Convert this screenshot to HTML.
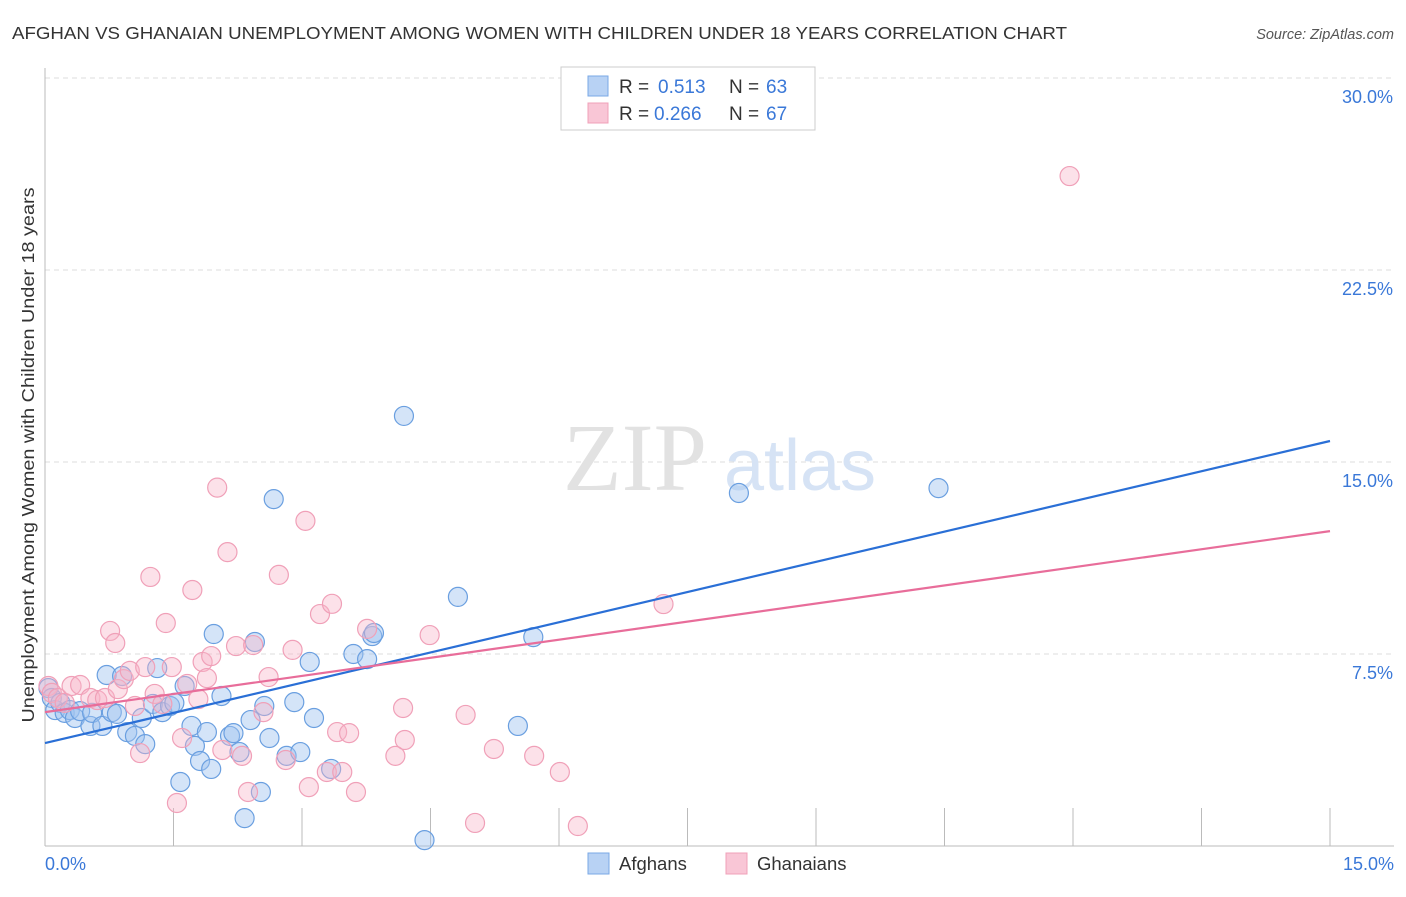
<!DOCTYPE html>
<html><head><meta charset="utf-8"><style>
body{margin:0;background:#fff;font-family:"Liberation Sans",sans-serif;}
</style></head><body>
<svg width="1406" height="892" xmlns="http://www.w3.org/2000/svg">
<text x="12" y="39" font-size="17.5" fill="#333" textLength="1055" lengthAdjust="spacingAndGlyphs">AFGHAN VS GHANAIAN UNEMPLOYMENT AMONG WOMEN WITH CHILDREN UNDER 18 YEARS CORRELATION CHART</text>
<text x="1394" y="39" font-size="14.5" fill="#555" font-style="italic" text-anchor="end">Source: ZipAtlas.com</text>
<g id="grid"></g>
<line x1="45" y1="68" x2="45" y2="846" stroke="#bbb"/>
<line x1="45" y1="846" x2="1394" y2="846" stroke="#bbb"/>
<text x="635" y="490" font-size="96" fill="#e2e2e2" font-family="Liberation Serif,serif" text-anchor="middle">ZIP</text>
<text x="800" y="490" font-size="72" fill="#d6e3f5" text-anchor="middle">atlas</text>
<text transform="translate(34,455) rotate(-90)" font-size="17.5" fill="#333" text-anchor="middle" textLength="535" lengthAdjust="spacingAndGlyphs">Unemployment Among Women with Children Under 18 years</text>
<text x="45" y="870" font-size="18" fill="#3a78d8">0.0%</text>
<text x="1394" y="870" font-size="18" fill="#3a78d8" text-anchor="end">15.0%</text>
<g id="points"></g>
<g id="lines"></g>
<g>
<rect x="561" y="67" width="254" height="63" fill="#fff" stroke="#ccc"/>
<rect x="588" y="76" width="20" height="20" fill="#b8d2f4" stroke="#7aa8e6"/>
<rect x="588" y="103" width="20" height="20" fill="#f9c6d6" stroke="#f0a0b8"/>
<text x="619" y="93" font-size="19" fill="#333">R =</text>
<text x="658" y="93" font-size="19" fill="#3a78d8">0.513</text>
<text x="729" y="93" font-size="19" fill="#333">N =</text>
<text x="766" y="93" font-size="19" fill="#3a78d8">63</text>
<text x="619" y="120" font-size="19" fill="#333">R =</text>
<text x="654" y="120" font-size="19" fill="#3a78d8">0.266</text>
<text x="729" y="120" font-size="19" fill="#333">N =</text>
<text x="766" y="120" font-size="19" fill="#3a78d8">67</text>
</g>
<g>
<rect x="588" y="853" width="21" height="21" fill="#b8d2f4" stroke="#7aa8e6"/>
<text x="619" y="870" font-size="18.5" fill="#333">Afghans</text>
<rect x="726" y="853" width="21" height="21" fill="#f9c6d6" stroke="#f0a0b8"/>
<text x="757" y="870" font-size="18.5" fill="#333">Ghanaians</text>
</g>
</svg>
<script>
const yTicks=[7.5,15,22.5,30];
const yTickLabels=["7.5%","15.0%","22.5%","30.0%"];
const xTicks=[0,1.5,3,4.5,6,7.5,9,10.5,12,13.5,15];
const afghanX=[0.04,0.08,0.12,0.18,0.23,0.29,0.35,0.41,0.53,0.55,0.67,0.72,0.78,0.84,0.9,0.96,1.05,1.13,1.17,1.26,1.31,1.37,1.46,1.51,1.58,1.63,1.71,1.75,1.81,1.89,1.94,1.97,2.06,2.16,2.2,2.27,2.33,2.4,2.45,2.52,2.56,2.62,2.67,2.82,2.91,2.98,3.09,3.14,3.34,3.6,3.76,3.82,3.84,4.19,4.43,4.82,5.52,5.7,8.1,10.43];
const afghanY=[6.17,5.78,5.31,5.59,5.2,5.31,5.0,5.27,4.69,5.2,4.69,6.68,5.23,5.16,6.64,4.45,4.3,5.0,3.98,5.55,6.95,5.23,5.47,5.59,2.5,6.25,4.69,3.91,3.32,4.45,3.01,8.28,5.86,4.3,4.41,3.67,1.09,4.92,7.97,2.11,5.47,4.22,13.55,3.52,5.62,3.67,7.19,5.0,3.01,7.5,7.3,8.2,8.32,16.8,0.23,9.73,4.69,8.16,13.79,13.98];
const ghanaX=[0.04,0.08,0.15,0.23,0.31,0.41,0.53,0.61,0.7,0.76,0.82,0.85,0.92,0.99,1.05,1.11,1.17,1.23,1.28,1.37,1.41,1.48,1.54,1.6,1.66,1.72,1.79,1.84,1.89,1.94,2.01,2.07,2.13,2.23,2.3,2.37,2.43,2.55,2.61,2.73,2.81,2.89,3.04,3.08,3.21,3.29,3.35,3.41,3.47,3.55,3.63,3.76,4.09,4.18,4.2,4.49,4.91,5.02,5.24,5.71,6.01,6.22,7.22,11.96];
const ghanaY=[6.25,5.98,5.78,5.59,6.25,6.29,5.78,5.7,5.78,8.4,7.93,6.13,6.52,6.84,5.47,3.63,6.99,10.51,5.94,5.55,8.71,6.99,1.68,4.22,6.33,10.0,5.74,7.19,6.56,7.42,14.0,3.75,11.48,7.81,3.52,2.11,7.85,5.23,6.6,10.59,3.36,7.66,12.7,2.3,9.06,2.89,9.46,4.45,2.89,4.41,2.11,8.48,3.52,5.39,4.14,8.24,5.12,0.9,3.79,3.52,2.89,0.78,9.45,26.17];
const trendAfghan=[4.02,15.82];
const trendGhana=[5.23,12.3];
const NS="http://www.w3.org/2000/svg";
const X=v=>45+v/15*1285, Y=v=>846-v*25.6;
function mk(t,a,p){const e=document.createElementNS(NS,t);for(const k in a)e.setAttribute(k,a[k]);p.appendChild(e);return e;}
const grid=document.getElementById('grid');
yTicks.forEach((t,i)=>{
 const l=mk('line',{x1:45,x2:1394,y1:Y(t),y2:Y(t),stroke:'#ddd','stroke-dasharray':'5,4'},grid);
 
 
 const tx=mk('text',{x:1393,y:Y(t)+25,'font-size':18,fill:'#3a78d8','text-anchor':'end'},grid);
 tx.textContent=yTickLabels[i];
 
 
});
xTicks.forEach(t=>{
 const l=mk('line',{x1:X(t),x2:X(t),y1:808,y2:846,stroke:'#bbb'},grid);
 
 
});
const pts=document.getElementById('points');
afghanX.forEach((v,i)=>{
 const c=mk('circle',{cx:X(v),cy:Y(afghanY[i]),r:9.5,fill:'rgba(160,196,240,0.45)',stroke:'#6a9fe0','stroke-width':1.2},pts);
 
 
});
ghanaX.forEach((v,i)=>{
 const c=mk('circle',{cx:X(v),cy:Y(ghanaY[i]),r:9.5,fill:'rgba(248,180,200,0.4)',stroke:'#f0a0b8','stroke-width':1.2},pts);
 
 
});
const ln=document.getElementById('lines');
const a=mk('line',{x1:X(0),y1:Y(trendAfghan[0]),x2:X(15),y2:Y(trendAfghan[1]),stroke:'#2a6fd6','stroke-width':2.2},ln);


const g=mk('line',{x1:X(0),y1:Y(trendGhana[0]),x2:X(15),y2:Y(trendGhana[1]),stroke:'#e86d9a','stroke-width':2.2},ln);


</script>
</body></html>
